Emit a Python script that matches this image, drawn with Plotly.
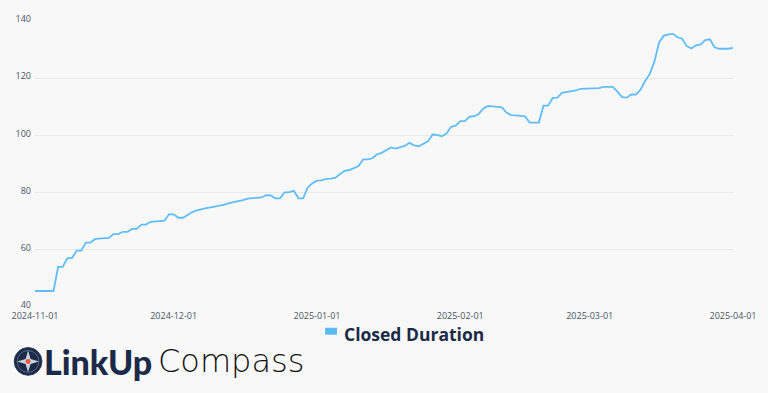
import pandas as pd
import plotly.graph_objects as go

# ---- data ----
start_date = "2024-11-01"
closed_duration = [
    # Nov 1-30
    45.6, 45.6, 45.6, 45.6, 45.6, 54.0, 54.0, 57.1, 57.1, 59.7,
    59.7, 62.5, 62.5, 63.8, 63.9, 64.1, 64.2, 65.5, 65.5, 66.3,
    66.3, 67.3, 67.3, 68.8, 68.8, 69.8, 69.9, 70.1, 70.2, 72.4,
    # Dec 1-31
    72.4, 71.2, 71.2, 72.2, 73.2, 73.8, 74.3, 74.6, 74.8, 75.1,
    75.4, 75.8, 76.3, 76.6, 77.0, 77.4, 77.9, 78.0, 78.1, 78.3,
    79.1, 79.0, 78.0, 78.0, 80.1, 80.2, 80.6, 78.0, 78.0, 81.8,
    83.3,
    # Jan 1-31
    84.2, 84.3, 84.8, 84.9, 85.2, 86.5, 87.6, 87.9, 88.7, 89.3,
    91.6, 91.6, 92.0, 93.4, 93.9, 94.8, 95.8, 95.4, 95.9, 96.3,
    97.4, 96.5, 96.2, 97.0, 97.9, 100.3, 100.2, 99.7, 100.6, 103.0,
    103.4,
    # Feb 1-28
    105.0, 105.0, 106.6, 106.7, 107.5, 109.4, 110.3, 110.1, 109.8, 109.8,
    108.0, 107.1, 107.0, 106.8, 106.7, 104.5, 104.5, 104.5, 110.4, 110.4,
    113.1, 113.2, 114.9, 115.2, 115.5, 115.7, 116.3, 116.3,
    # Mar 1-31
    116.3, 116.3, 116.5, 117.0, 117.0, 117.0, 115.3, 113.4, 113.2, 114.3,
    114.3, 116.0, 119.0, 121.5, 125.8, 132.5, 134.8, 135.3, 135.5, 134.3,
    133.8, 131.2, 130.4, 131.5, 131.8, 133.3, 133.6, 130.8, 130.3, 130.3,
    130.3,
    # Apr 1
    130.6,
]
dates = pd.date_range(start_date, periods=len(closed_duration), freq="D")
series_name = "Closed Duration"
y_ticks = [40, 60, 80, 100, 120, 140]

LINE_COLOR = "#62bdf6"
NAVY = "#1b2a47"
BG = "#f8f8f8"

fig = go.Figure()
fig.add_trace(go.Scatter(
    x=dates, y=closed_duration, mode="lines", name=series_name,
    line=dict(color=LINE_COLOR, width=1.8), showlegend=False,
))

# plot-area pixel geometry -> paper coordinates helpers
L, R, T, B = 34, 739, 18, 307
W, H = 768, 393
def px(xp):
    return (xp - L) / (R - L)
def py(yp):
    return (B - yp) / (B - T)

shapes = []
# legend swatch
shapes.append(dict(type="rect", xref="paper", yref="paper",
                   x0=px(327), x1=px(339), y0=py(335), y1=py(328),
                   fillcolor="#5cbaf3", line=dict(width=0)))
# compass logo icon
cx, cy, r = 27, 362, 14
shapes.append(dict(type="circle", xref="paper", yref="paper",
                   x0=px(cx - r), x1=px(cx + r), y0=py(cy + r), y1=py(cy - r),
                   fillcolor=NAVY, line=dict(color="#2c3d5e", width=1)))
shapes.append(dict(type="circle", xref="paper", yref="paper",
                   x0=px(cx - r + 3), x1=px(cx + r - 3), y0=py(cy + r - 3), y1=py(cy - r + 3),
                   fillcolor="rgba(0,0,0,0)", line=dict(color="#56698a", width=1)))
star = [(cx, cy - 11), (cx + 2.5, cy - 2.5), (cx + 11, cy), (cx + 2.5, cy + 2.5),
        (cx, cy + 11), (cx - 2.5, cy + 2.5), (cx - 11, cy), (cx - 2.5, cy - 2.5)]
path = "M " + " L ".join(f"{px(a):.5f},{py(b):.5f}" for a, b in star) + " Z"
shapes.append(dict(type="path", xref="paper", yref="paper", path=path,
                   fillcolor="#c9d3e2", line=dict(width=0)))
shapes.append(dict(type="circle", xref="paper", yref="paper",
                   x0=px(cx - 2.5), x1=px(cx + 2.5), y0=py(cy + 2.5), y1=py(cy - 2.5),
                   fillcolor="#e8553f", line=dict(width=0)))

annotations = [
    dict(text=series_name, xref="paper", yref="paper", x=px(345), y=py(334),
         xanchor="left", yanchor="middle", showarrow=False, borderpad=0,
         font=dict(family="Open Sans", size=17.5, color=NAVY, weight="bold")),
    dict(text="LinkUp", xref="paper", yref="paper", x=px(41), y=py(362),
         xanchor="left", yanchor="middle", showarrow=False,
         font=dict(family="Lato", size=34, color=NAVY, weight=900)),
    dict(text="Compass", xref="paper", yref="paper", x=px(156), y=py(362),
         xanchor="left", yanchor="middle", showarrow=False,
         font=dict(family="DejaVu Sans", size=32, color="#111111", weight=200)),
]

fig.update_layout(
    width=W, height=H,
    margin=dict(l=L, r=W - R, t=T, b=H - B, pad=0),
    paper_bgcolor=BG, plot_bgcolor=BG,
    showlegend=False,
    shapes=shapes, annotations=annotations,
    font=dict(family="Open Sans", size=9, color="#4a5466"),
)
fig.update_xaxes(
    type="date", range=[dates[0], dates[-1]],
    tickformat="%Y-%m-%d", dtick="M1", tick0="2024-11-01",
    showgrid=False, zeroline=False, showline=False, ticks="",
    tickfont=dict(size=9, color="#4a5466"), ticklabelstandoff=2,
)
fig.update_yaxes(
    range=[40, 140], tickvals=y_ticks, showgrid=True, gridcolor="#e9e9e9",
    gridwidth=1, zeroline=False, showline=False, ticks="",
    tickfont=dict(size=9, color="#4a5466"), ticklabelstandoff=3,
    ticklabelshift=-2,
)

fig.write_html(
    "out.html",
    config={"displayModeBar": False},
    post_script="document.body.style.margin='0';document.body.style.background='#f8f8f8';",
)
